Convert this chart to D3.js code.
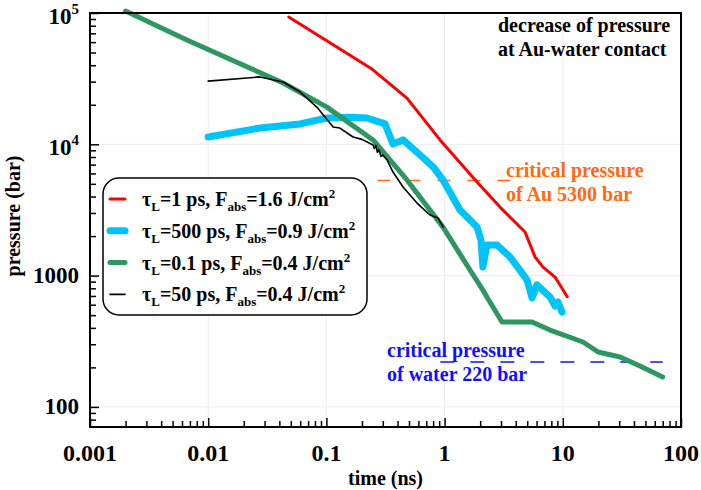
<!DOCTYPE html>
<html>
<head>
<meta charset="utf-8">
<script src="https://cdn.jsdelivr.net/npm/d3@7"></script>
<style>
  body { margin: 0; background: #fff; }
</style>
</head>
<body>
<svg id="chart" width="701" height="490"></svg>
<script>
// tau_L = 1 ps, F = 1.6
var redT = [0.048, 0.243, 0.48, 0.915, 1.88, 2.94, 4.79, 5.82, 6.8, 8.6, 10.9];
var redP = [93300, 37400, 22500, 10800, 5170, 3325, 2150, 1390, 1160, 975, 690];

// tau_L = 500 ps, F = 0.9
var cyanT = [0.01, 0.0274, 0.06, 0.101, 0.158, 0.22, 0.313, 0.366, 0.445, 0.62, 0.8, 0.97,
             1.35, 1.88, 2.03, 2.11, 2.28, 2.78, 3.57, 4.98, 5.49, 6.05, 7.8, 8.6, 9.1, 9.84];
var cyanP = [11370, 13300, 14300, 15850, 16100, 15850, 14300, 10050, 10800, 8290, 6720, 5350,
             3160, 2345, 1870, 1164, 1710, 1710, 1390, 927, 676, 850, 687, 587, 630, 528];

// tau_L = 0.1 ps, F = 0.4
var greenT = [0.002, 0.0066, 0.0197, 0.043, 0.101, 0.248, 0.48, 0.97, 1.64, 2.11, 2.28, 3.06,
              5.49, 7.8, 14.8, 19.9, 30.5, 45, 70];
var greenP = [103500, 62200, 40200, 29300, 19200, 10800, 5350, 2340, 1104, 776, 687, 443,
              443, 385, 312, 262, 240, 205, 169];

// tau_L = 50 ps, F = 0.4
var blackT = [0.01, 0.0213, 0.0274, 0.043, 0.06, 0.083, 0.114, 0.13, 0.168, 0.2, 0.248, 0.255,
              0.262, 0.27, 0.278, 0.29, 0.3, 0.326, 0.366, 0.445, 0.584, 0.752, 0.879, 0.92, 0.97];
var blackP = [30300, 32000, 32600, 29800, 25000, 19200, 13550, 13300, 11370, 10900, 9880, 9300,
              9800, 8700, 9100, 8100, 8300, 7600, 6150, 4730, 3570, 2895, 2750, 2550, 2345];

var seriesTau = ["1", "500", "0.1", "50"];
var seriesF = ["1.6", "0.9", "0.4", "0.4"];

var xMajor = [0.001, 0.01, 0.1, 1, 10, 100];
var xLabels = ["0.001", "0.01", "0.1", "1", "10", "100"];
var yMajor = [100, 1000, 10000, 100000];
var yLabels = [["100", ""], ["1000", ""], ["10", "4"], ["10", "5"]];

var auCritical = 5300, waterCritical = 220;

var margin = {top: 13, right: 20, bottom: 63, left: 90},
  width = 701 - margin.left - margin.right,
  height = 490 - margin.top - margin.bottom;

var svg = d3.select("#chart");
var g = svg.append("g").attr("transform", "translate(" + margin.left + "," + margin.top + ")");

var x = d3.scaleLog().domain([0.001, 100]).range([0, width]);
var y = d3.scaleLog().domain([70.3, 100000]).range([height, 0]);

// minor tick values, 2..9 of every decade
var xMinor = [], yMinor = [];
xMajor.slice(0, -1).forEach(function (d) {
  for (var k = 2; k <= 9; k++) xMinor.push(d * k);
});
[10, 100, 1000, 10000].forEach(function (d) {
  for (var k = 2; k <= 9; k++) if (d * k > 70.3) yMinor.push(d * k);
});

/* grid */
g.selectAll(".gx").data(xMajor.slice(1, -1)).enter().append("line")
  .attr("x1", function (d) { return x(d); }).attr("x2", function (d) { return x(d); })
  .attr("y1", 0).attr("y2", height)
  .attr("stroke", "#ececec").attr("stroke-width", 1);
g.selectAll(".gy").data(yMajor.slice(0, -1)).enter().append("line")
  .attr("y1", function (d) { return y(d); }).attr("y2", function (d) { return y(d); })
  .attr("x1", 0).attr("x2", width)
  .attr("stroke", "#ececec").attr("stroke-width", 1);

/* axes (ticks pointing inward) */
function styleAxis(sel) {
  sel.select(".domain").remove();
  sel.selectAll(".tick line").attr("stroke", "#000").attr("stroke-width", 1.5);
}
g.append("g").attr("transform", "translate(0," + height + ")")
  .call(d3.axisBottom(x).tickValues(xMajor).tickSize(-9).tickFormat(""))
  .call(styleAxis);
g.append("g").attr("transform", "translate(0," + height + ")")
  .call(d3.axisBottom(x).tickValues(xMinor).tickSize(-6).tickFormat(""))
  .call(styleAxis);
g.append("g")
  .call(d3.axisLeft(y).tickValues(yMajor).tickSize(-9).tickFormat(""))
  .call(styleAxis);
g.append("g")
  .call(d3.axisLeft(y).tickValues(yMinor).tickSize(-6).tickFormat(""))
  .call(styleAxis);

/* tick labels */
g.selectAll(".xl").data(xMajor).enter().append("text")
  .attr("x", function (d) { return x(d); })
  .attr("y", height + 34)
  .attr("text-anchor", "middle")
  .attr("font-size", 24)
  .text(function (d, i) { return xLabels[i]; });

var yl = g.selectAll(".yl").data(yMajor).enter().append("text")
  .attr("x", -11)
  .attr("y", function (d, i) { return y(d) + (yLabels[i][1] ? 11 : 7.5); })
  .attr("text-anchor", "end")
  .attr("font-size", 23);
yl.append("tspan").text(function (d, i) { return yLabels[i][0]; });
yl.append("tspan").attr("font-size", 15).attr("dy", -10)
  .text(function (d, i) { return yLabels[i][1]; });

/* axis titles */
svg.append("text")
  .attr("x", margin.left + width / 2).attr("y", 485)
  .attr("text-anchor", "middle").attr("font-size", 20)
  .text("time (ns)");
svg.append("text")
  .attr("transform", "translate(20," + (margin.top + height / 2 - 4) + ") rotate(-90)")
  .attr("text-anchor", "middle").attr("font-size", 20)
  .text("pressure (bar)");

/* critical pressure lines */
g.append("line")
  .attr("x1", x(0.27)).attr("x2", x(3.8))
  .attr("y1", y(auCritical)).attr("y2", y(auCritical))
  .attr("stroke", "#ff6a10").attr("stroke-width", 1.5).attr("stroke-dasharray", "13,17");
g.append("line")
  .attr("x1", x(0.92)).attr("x2", x(70))
  .attr("y1", y(waterCritical)).attr("y2", y(waterCritical))
  .attr("stroke", "#1010ff").attr("stroke-width", 1.5).attr("stroke-dasharray", "14,16");

/* curves */
var series = [
  {t: redT, p: redP, color: "#ff0000", w: 3},
  {t: cyanT, p: cyanP, color: "#00c4f8", w: 7},
  {t: greenT, p: greenP, color: "#2e9660", w: 5},
  {t: blackT, p: blackP, color: "#000000", w: 1.6}
];
var line = d3.line()
  .x(function (d) { return x(d[0]); })
  .y(function (d) { return y(d[1]); });

g.selectAll(".curve").data(series).enter().append("path")
  .attr("d", function (s) { return line(d3.zip(s.t, s.p)); })
  .attr("fill", "none")
  .attr("stroke", function (s) { return s.color; })
  .attr("stroke-width", function (s) { return s.w; })
  .attr("stroke-linejoin", "round")
  .attr("stroke-linecap", "round");

/* frame */
g.append("rect").attr("width", width).attr("height", height)
  .attr("fill", "none").attr("stroke", "#000").attr("stroke-width", 2);

/* annotations */
function textBlock(lines, px, py, color) {
  var t = svg.append("text").attr("font-size", 20).attr("fill", color);
  lines.forEach(function (s, i) {
    t.append("tspan").attr("x", px).attr("y", py + i * 23.5).text(s);
  });
}
textBlock(["decrease of pressure", "at Au-water contact"], 498, 32, "#000");
textBlock(["critical pressure", "of Au 5300 bar"], 506, 177, "#ff6a10");
textBlock(["critical pressure", "of water 220 bar"], 387, 357, "#1010ff");

/* legend */
var legend = svg.append("g").attr("transform", "translate(103,178)");
legend.append("rect").attr("width", 264).attr("height", 137).attr("rx", 16)
  .attr("fill", "#fff").attr("stroke", "#000").attr("stroke-width", 1.5);

var item = legend.selectAll(".item").data(series).enter().append("g")
  .attr("transform", function (d, i) { return "translate(0," + (21 + i * 31.8) + ")"; });
item.append("line")
  .attr("x1", 7).attr("x2", 22)
  .attr("stroke", function (s) { return s.color; })
  .attr("stroke-width", function (s) { return s.w; })
  .attr("stroke-linecap", "round");
var lt = item.append("text").attr("x", 39).attr("y", 7).attr("font-size", 20);
lt.append("tspan").text("\u03c4");
lt.append("tspan").attr("font-size", 13).attr("dy", 5).text("L");
lt.append("tspan").attr("dy", -5).text(function (d, i) { return "=" + seriesTau[i] + " ps, F"; });
lt.append("tspan").attr("font-size", 13).attr("dy", 5).text("abs");
lt.append("tspan").attr("dy", -5).text(function (d, i) { return "=" + seriesF[i] + " J/cm"; });
lt.append("tspan").attr("font-size", 13).attr("dy", -8).text("2");

// serif bold for every label
svg.selectAll("text")
  .style("font-family", "'Liberation Serif'")
  .attr("font-weight", "bold");
</script>
</body>
</html>
